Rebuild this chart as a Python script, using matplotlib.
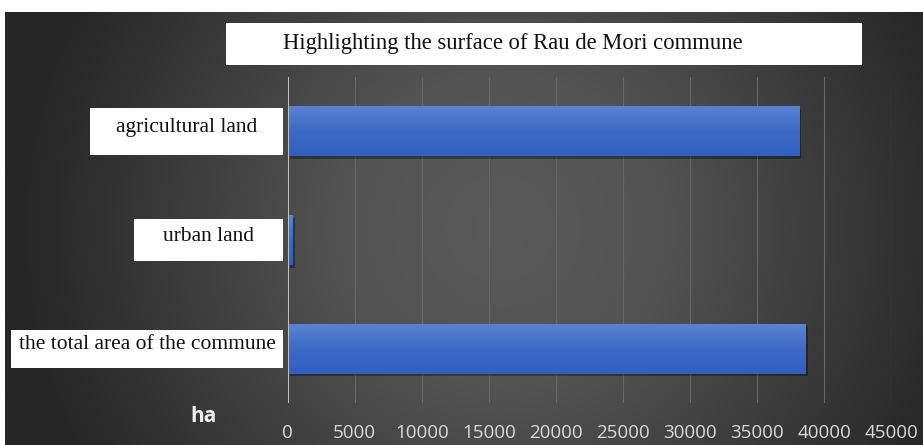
import numpy as np
import matplotlib.pyplot as plt
import matplotlib.patches as mpatches
import matplotlib.patheffects as pe
from matplotlib.transforms import blended_transform_factory
from matplotlib.colors import LinearSegmentedColormap

# --- Dados (ha) ---
categories = ['the total area of the commune', 'urban land', 'agricultural land']
surface_ha = [38590, 370, 38100]
xticks = [0, 5000, 10000, 15000, 20000, 25000, 30000, 35000, 40000, 45000]
title = 'Highlighting the surface of Rau de Mori commune'
unit = 'ha'

W, H = 923, 445
fig = plt.figure(figsize=(W / 100, H / 100), dpi=100, facecolor='white')

# --- fundo escuro com gradiente radial (mais horizontal) ---
bg = fig.add_axes([5 / W, 0, (W - 5) / W, (H - 12) / H], zorder=-2)
yy, xx = np.mgrid[-1:1:200j, -1:1:400j]
r = np.sqrt(((xx - 0.08) / 1.05) ** 2 + (yy / 2.2) ** 2)
bg_cmap = LinearSegmentedColormap.from_list('bg', ['#595959', '#535353', '#3c3c3c', '#262626'])
bg.imshow(np.clip(r, 0, 1), cmap=bg_cmap, vmin=0, vmax=1, aspect='auto', extent=[0, 1, 0, 1])
bg.set_axis_off()

# --- eixo principal ---
ax_l, ax_r = 287.5, 891.3
ax_t, ax_b = 77, 403
ax = fig.add_axes([ax_l / W, 1 - ax_b / H, (ax_r - ax_l) / W, (ax_b - ax_t) / H])
ax.set_facecolor('none')

y = np.arange(len(categories))
bars = ax.barh(y, surface_ha, height=0.46, color='#4472c4', zorder=3,
               path_effects=[pe.SimplePatchShadow(offset=(2, -2), shadow_rgbFace='black', alpha=0.35),
                             pe.Normal()])

# gradiente nas barras
grad = np.linspace(0, 1, 64).reshape(-1, 1)
bar_cmap = LinearSegmentedColormap.from_list('bar', ['#5b82d2', '#3d6ac7', '#3060c0'])
for b in bars:
    x0, y0, w, h = b.get_x(), b.get_y(), b.get_width(), b.get_height()
    im = ax.imshow(grad, cmap=bar_cmap, aspect='auto', extent=[x0, x0 + w, y0, y0 + h],
                   origin='upper', zorder=4)
    im.set_clip_path(b)

ax.set_xlim(0, 45000)
ax.set_ylim(-0.5, len(categories) - 0.5)
ax.set_xticks(xticks)
ax.set_xticklabels([str(t) for t in xticks], color='#d9d9d9', fontsize=13.5, family='Open Sans')
ax.tick_params(axis='x', length=0, pad=15)
ax.set_yticks([])
ax.grid(axis='x', color='#686868', linewidth=0.8, zorder=1)
ax.axvline(0, color='#c8c8c8', linewidth=1.3, zorder=5)
for s in ax.spines.values():
    s.set_visible(False)

# --- rótulos das categorias em caixas brancas ---
ax_w = ax_r - ax_l
px_per_unit = (ax_b - ax_t) / len(categories)
tr = blended_transform_factory(ax.transAxes, ax.transData)
box_left_px = [11, 134, 90]
box_right_px = 283
box_h_px = [38, 42, 47]
for yi, lab, lpx, hpx in zip(y, categories, box_left_px, box_h_px):
    x0 = (lpx - ax_l) / ax_w
    x1 = (box_right_px - ax_l) / ax_w
    hh = hpx / px_per_unit
    rect = mpatches.Rectangle((x0, yi - hh / 2), x1 - x0, hh, transform=tr,
                              facecolor='white', edgecolor='none', clip_on=False, zorder=6)
    ax.add_patch(rect)
    ax.text((x0 + x1) / 2, yi + 0.035, lab, transform=tr, ha='center', va='center',
            fontsize=15.5, family='Liberation Serif', color='#111111', zorder=7, clip_on=False)

# --- título ---
fig.patches.append(mpatches.Rectangle((226 / W, 1 - 65 / H), (862 - 226) / W, 42 / H,
                                      transform=fig.transFigure, facecolor='white',
                                      edgecolor='none', zorder=5))
fig.text(283 / W, 1 - 43 / H, title, ha='left', va='center', fontsize=16.3,
         family='Liberation Serif', color='#111111', zorder=6)

# --- unidade ---
fig.text(203.5 / W, 1 - 417 / H, unit, ha='center', va='center', fontsize=15,
         fontweight='bold', family='Open Sans', color='#f0f0f0')

fig.savefig('out.png', dpi=100, facecolor='white')
